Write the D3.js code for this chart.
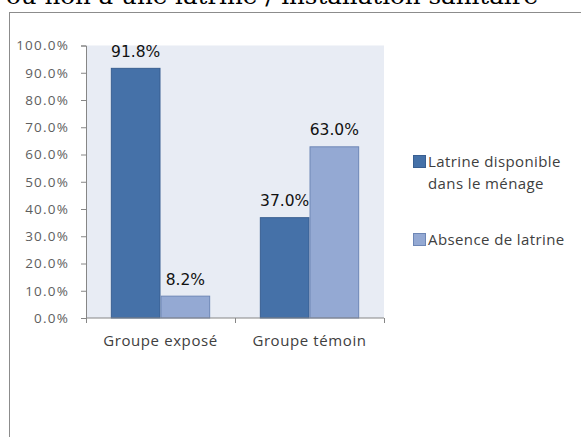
<!DOCTYPE html>
<html>
<head>
<meta charset="utf-8">
<script src="https://cdn.jsdelivr.net/npm/d3@7/dist/d3.min.js"></script>
<style>
  html, body { margin: 0; padding: 0; background: #ffffff; }
  svg { display: block; }
</style>
</head>
<body>
<svg id="chart" width="581" height="437"></svg>
<script>
// Data
const categories = ["Groupe exposé", "Groupe témoin"];
const seriesKeys = ["disponible", "absence"];
const seriesLabels = [["Latrine disponible", "dans le ménage"], ["Absence de latrine"]];
const latrineDisponible = [91.8, 37.0];
const absenceLatrine = [8.2, 63.0];
const yTickValues = [0, 10, 20, 30, 40, 50, 60, 70, 80, 90, 100];
const titleText = "ou non à une latrine / installation sanitaire";

const seriesValues = [latrineDisponible, absenceLatrine];
const fills = ["#4571A8", "#94A9D3"];
const strokes = ["#395F91", "#6E87B6"];

const uiFont = "'Open Sans', Lato, sans-serif";

const svg = d3.select("#chart");

// Title line (partly clipped by the top edge)
svg.append("text")
  .attr("x", 6).attr("y", 4)
  .attr("textLength", 532).attr("lengthAdjust", "spacingAndGlyphs")
  .style("font-family", "'DejaVu Serif', serif")
  .style("font-size", "22px")
  .attr("fill", "#000")
  .text(titleText);

// Chart frame
svg.append("rect")
  .attr("x", 9.5).attr("y", 12.5)
  .attr("width", 620).attr("height", 460)
  .attr("fill", "#fff").attr("stroke", "#8c8c8c").attr("stroke-width", 1);

const plot = { left: 86, right: 384, top: 45.5, bottom: 318 };

const x0 = d3.scaleBand().domain(categories).range([plot.left, plot.right]).padding(0);
const x1 = d3.scaleBand().domain(seriesKeys).range([0, x0.bandwidth()])
  .paddingInner(0).paddingOuter(0.5);
const y = d3.scaleLinear().domain([0, 100]).range([plot.bottom, plot.top]);

// Plot background
svg.append("rect")
  .attr("x", plot.left).attr("y", plot.top)
  .attr("width", plot.right - plot.left).attr("height", plot.bottom - plot.top)
  .attr("fill", "#E8ECF4");

// Bars
const groups = svg.append("g").selectAll("g")
  .data(categories)
  .join("g")
  .attr("transform", d => `translate(${x0(d)},0)`);

const cells = (d, i) => seriesKeys.map((k, s) => ({ key: k, s, value: seriesValues[s][i] }));

groups.selectAll("rect")
  .data(cells)
  .join("rect")
  .attr("x", d => x1(d.key) + 0.5)
  .attr("y", d => y(d.value) + 0.5)
  .attr("width", x1.bandwidth() - 1)
  .attr("height", d => y(0) - y(d.value) - 0.5)
  .attr("fill", d => fills[d.s])
  .attr("stroke", d => strokes[d.s])
  .attr("stroke-width", 1);

// Value labels
groups.selectAll("text.val")
  .data(cells)
  .join("text")
  .attr("class", "val")
  .attr("x", d => x1(d.key) + x1.bandwidth() / 2)
  .attr("y", d => y(d.value) - 11)
  .attr("text-anchor", "middle")
  .style("font-family", "'DejaVu Sans', Verdana, sans-serif")
  .style("font-size", "15.5px")
  .attr("fill", "#111")
  .text(d => d.value.toFixed(1) + "%");

// Y axis
const yAxis = d3.axisLeft(y)
  .tickValues(yTickValues)
  .tickSize(5)
  .tickPadding(12)
  .tickFormat(d => d.toFixed(1) + "%");

const gy = svg.append("g")
  .attr("transform", `translate(${plot.left},0)`)
  .call(yAxis);
gy.select(".domain").attr("stroke", "#868686");
gy.selectAll(".tick line").attr("stroke", "#868686");
gy.selectAll(".tick text")
  .style("font-family", uiFont)
  .style("font-size", "13.5px")
  .style("letter-spacing", "1.2px")
  .attr("fill", "#5e5e5e");

// X axis with ticks at category boundaries
const gx = svg.append("g")
  .attr("transform", `translate(0,${plot.bottom})`);
gx.append("line")
  .attr("x1", plot.left).attr("x2", plot.right)
  .attr("stroke", "#868686");
const boundaries = [...categories.map(c => x0(c)), x0(categories[categories.length - 1]) + x0.bandwidth()];
gx.selectAll("line.tk")
  .data(boundaries)
  .join("line")
  .attr("class", "tk")
  .attr("x1", d => Math.round(d) + 0.5).attr("x2", d => Math.round(d) + 0.5)
  .attr("y1", 0).attr("y2", 5)
  .attr("stroke", "#868686");
gx.selectAll("text")
  .data(categories)
  .join("text")
  .attr("x", d => x0(d) + x0.bandwidth() / 2)
  .attr("y", 28)
  .attr("text-anchor", "middle")
  .style("font-family", uiFont)
  .style("font-size", "15px")
  .style("letter-spacing", "0.6px")
  .attr("fill", "#404040")
  .text(d => d);

// Legend
const legendY = [155, 233];
const legend = svg.append("g");
seriesKeys.forEach((k, s) => {
  legend.append("rect")
    .attr("x", 413.5).attr("y", legendY[s] + 0.5)
    .attr("width", 12).attr("height", 12)
    .attr("fill", fills[s]).attr("stroke", strokes[s]);
  const t = legend.append("text")
    .attr("x", 428).attr("y", legendY[s] + 12)
    .style("font-family", uiFont)
    .style("font-size", "15px")
    .style("letter-spacing", "0.4px")
    .attr("fill", "#404040");
  seriesLabels[s].forEach((line, j) => {
    t.append("tspan").attr("x", 428).attr("dy", j === 0 ? 0 : 22).text(line);
  });
});
</script>
</body>
</html>
